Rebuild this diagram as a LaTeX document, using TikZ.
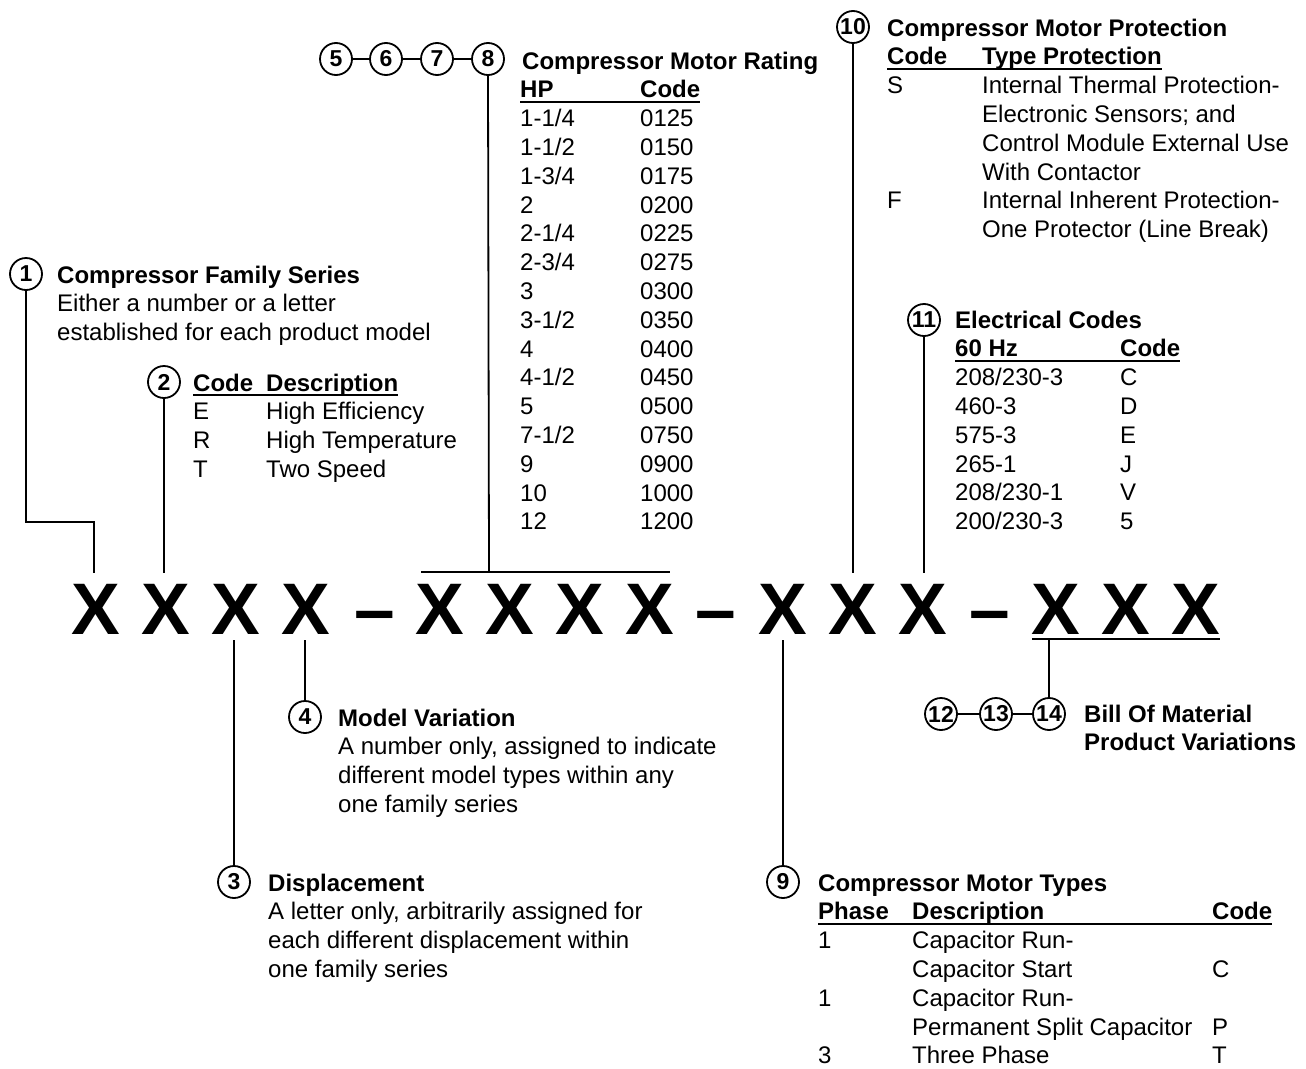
\documentclass[tikz,border=0pt]{standalone}
\usepackage{fontspec}
\setmainfont{Liberation Sans}
\begin{document}
\begin{tikzpicture}[x=1pt,y=-1pt,
  txt/.style={anchor=base west,inner sep=0pt,font=\fontsize{24}{28.8}\selectfont},
  bld/.style={txt,font=\fontsize{24}{28.8}\selectfont\bfseries},
  bigx/.style={anchor=base,inner sep=0pt,font=\fontsize{73}{80}\selectfont\bfseries},
  circ/.style={circle,draw,line width=1.8pt,minimum size=32pt,inner sep=0pt,font=\fontsize{23}{24}\selectfont\bfseries},
  conn/.style={line width=1.8pt},
  uline/.style={line width=2.5pt}]
\useasboundingbox (0,0) rectangle (1306,1068);
% big code row
\node[bigx] (x1) at (95.5,634) {X};
\node[bigx] (x2) at (165.5,634) {X};
\node[bigx] (x3) at (235.5,634) {X};
\node[bigx] (x4) at (305.5,634) {X};
\node[bigx] (d1) at (375,634) {\textendash};
\node[bigx] (x5) at (440,634) {X};
\node[bigx] (x6) at (510,634) {X};
\node[bigx] (x7) at (580,634) {X};
\node[bigx] (x8) at (650,634) {X};
\node[bigx] (d2) at (716,634) {\textendash};
\node[bigx] (x9) at (783,634) {X};
\node[bigx] (x10) at (853,634) {X};
\node[bigx] (x11) at (923,634) {X};
\node[bigx] (d3) at (990,634) {\textendash};
\node[bigx] (x12) at (1056,634) {X};
\node[bigx] (x13) at (1126,634) {X};
\node[bigx] (x14) at (1196,634) {X};
% circles
\node[circ] (c1) at (26,274) {1};
\node[circ] (c2) at (164,382) {2};
\node[circ] (c3) at (234,882) {3};
\node[circ] (c4) at (305,717) {4};
\node[circ] (c5) at (336,59) {5};
\node[circ] (c6) at (386,59) {6};
\node[circ] (c7) at (437,59) {7};
\node[circ] (c8) at (488,59) {8};
\node[circ] (c9) at (783,882) {9};
\node[circ] (c10) at (853,27) {10};
\node[circ] (c11) at (924,320) {11};
\node[circ] (c12) at (941,714) {12};
\node[circ] (c13) at (996,714) {13};
\node[circ] (c14) at (1049,714) {14};
% connector coordinates
\coordinate (j1) at (26,522);
\coordinate (k1) at (94,573);
\coordinate (k2) at (164,573);
\coordinate (k8) at (489,572);
\coordinate (ol1) at (421,572);
\coordinate (ol2) at (670,572);
\coordinate (k10) at (853,573);
\coordinate (k11) at (924,573);
\coordinate (k3) at (234,640);
\coordinate (k4) at (305,640);
\coordinate (k9) at (783,640);
\coordinate (ul1) at (1032,639);
\coordinate (ul2) at (1220,639);
\coordinate (k14) at (1049,639);
% connectors
\draw[conn] (c1.south) -- (j1) -| (k1);
\draw[conn] (c2) -- (k2);
\draw[conn] (c5) -- (c6);
\draw[conn] (c6) -- (c7);
\draw[conn] (c7) -- (c8);
\draw[conn] (c8.south) -- (k8);
\draw[conn] (ol1) -- (ol2);
\draw[conn] (c10) -- (k10);
\draw[conn] (c11) -- (k11);
\draw[conn] (k3) -- (c3);
\draw[conn] (k4) -- (c4);
\draw[conn] (k9) -- (c9);
\draw[conn] (ul1) -- (ul2);
\draw[conn] (k14) -- (c14);
\draw[conn] (c12) -- (c13);
\draw[conn] (c13) -- (c14);
% block 1
\node[bld] (b1t) at (57,283) {Compressor Family Series};
\node[txt] (b1a) at (57,311.8) {Either a number or a letter};
\node[txt] (b1b) at (57,340.6) {established for each product model};
% block 2
\node[bld] (b2h1) at (193,391) {Code};
\node[bld] (b2h2) at (266,391) {Description};
\draw[uline] ([yshift=-4pt]b2h1.base west) -- ([yshift=-4pt]b2h2.base east);
\node[txt] (b2a1) at (193,419.8) {E};
\node[txt] (b2a2) at (266,419.8) {High Efficiency};
\node[txt] (b2b1) at (193,448.6) {R};
\node[txt] (b2b2) at (266,448.6) {High Temperature};
\node[txt] (b2c1) at (193,477.4) {T};
\node[txt] (b2c2) at (266,477.4) {Two Speed};
% rating block
\node[bld] (rt) at (522,69) {Compressor Motor Rating};
\node[bld] (rh1) at (520,97.8) {HP};
\node[bld] (rh2) at (640,97.8) {Code};
\draw[uline] ([yshift=-4pt]rh1.base west) -- ([yshift=-4pt]rh2.base east);
\node[txt] (ra0) at (520,126.6) {1-1/4};   \node[txt] (rb0) at (640,126.6) {0125};
\node[txt] (ra1) at (520,155.4) {1-1/2};   \node[txt] (rb1) at (640,155.4) {0150};
\node[txt] (ra2) at (520,184.2) {1-3/4};   \node[txt] (rb2) at (640,184.2) {0175};
\node[txt] (ra3) at (520,213.0) {2};       \node[txt] (rb3) at (640,213.0) {0200};
\node[txt] (ra4) at (520,241.8) {2-1/4};   \node[txt] (rb4) at (640,241.8) {0225};
\node[txt] (ra5) at (520,270.6) {2-3/4};   \node[txt] (rb5) at (640,270.6) {0275};
\node[txt] (ra6) at (520,299.4) {3};       \node[txt] (rb6) at (640,299.4) {0300};
\node[txt] (ra7) at (520,328.2) {3-1/2};   \node[txt] (rb7) at (640,328.2) {0350};
\node[txt] (ra8) at (520,357.0) {4};       \node[txt] (rb8) at (640,357.0) {0400};
\node[txt] (ra9) at (520,385.8) {4-1/2};   \node[txt] (rb9) at (640,385.8) {0450};
\node[txt] (ra10) at (520,414.6) {5};      \node[txt] (rb10) at (640,414.6) {0500};
\node[txt] (ra11) at (520,443.4) {7-1/2};  \node[txt] (rb11) at (640,443.4) {0750};
\node[txt] (ra12) at (520,472.2) {9};      \node[txt] (rb12) at (640,472.2) {0900};
\node[txt] (ra13) at (520,501.0) {10};     \node[txt] (rb13) at (640,501.0) {1000};
\node[txt] (ra14) at (520,529.8) {12};     \node[txt] (rb14) at (640,529.8) {1200};
% protection block
\node[bld] (pt) at (887,36) {Compressor Motor Protection};
\node[bld] (ph1) at (887,64.8) {Code};
\node[bld] (ph2) at (982,64.8) {Type Protection};
\draw[uline] ([yshift=-4pt]ph1.base west) -- ([yshift=-4pt]ph2.base east);
\node[txt] (pa1) at (887,93.6) {S};
\node[txt] (pa2) at (982,93.6) {Internal Thermal Protection-};
\node[txt] (pb2) at (982,122.4) {Electronic Sensors; and};
\node[txt] (pc2) at (982,151.2) {Control Module External Use};
\node[txt] (pd2) at (982,180) {With Contactor};
\node[txt] (pe1) at (887,208.8) {F};
\node[txt] (pe2) at (982,208.8) {Internal Inherent Protection-};
\node[txt] (pf2) at (982,237.6) {One Protector (Line Break)};
% electrical block
\node[bld] (et) at (955,328) {Electrical Codes};
\node[bld] (eh1) at (955,356.8) {60 Hz};
\node[bld] (eh2) at (1120,356.8) {Code};
\draw[uline] ([yshift=-4pt]eh1.base west) -- ([yshift=-4pt]eh2.base east);
\node[txt] (ea0) at (955,385.6) {208/230-3}; \node[txt] (eb0) at (1120,385.6) {C};
\node[txt] (ea1) at (955,414.4) {460-3};     \node[txt] (eb1) at (1120,414.4) {D};
\node[txt] (ea2) at (955,443.2) {575-3};     \node[txt] (eb2) at (1120,443.2) {E};
\node[txt] (ea3) at (955,472.0) {265-1};     \node[txt] (eb3) at (1120,472.0) {J};
\node[txt] (ea4) at (955,500.8) {208/230-1}; \node[txt] (eb4) at (1120,500.8) {V};
\node[txt] (ea5) at (955,529.6) {200/230-3}; \node[txt] (eb5) at (1120,529.6) {5};
% block 4
\node[bld] (b4t) at (338,726) {Model Variation};
\node[txt] (b4a) at (338,754.8) {A number only, assigned to indicate};
\node[txt] (b4b) at (338,783.6) {different model types within any};
\node[txt] (b4c) at (338,812.4) {one family series};
% block 3
\node[bld] (b3t) at (268,891) {Displacement};
\node[txt] (b3a) at (268,919.8) {A letter only, arbitrarily assigned for};
\node[txt] (b3b) at (268,948.6) {each different displacement within};
\node[txt] (b3c) at (268,977.4) {one family series};
% block 9
\node[bld] (mt) at (818,891) {Compressor Motor Types};
\node[bld] (mh1) at (818,919.8) {Phase};
\node[bld] (mh2) at (912,919.8) {Description};
\node[bld] (mh3) at (1212,919.8) {Code};
\draw[uline] ([yshift=-4pt]mh1.base west) -- ([yshift=-4pt]mh3.base east);
\node[txt] (ma1) at (818,948.6) {1};
\node[txt] (ma2) at (912,948.6) {Capacitor Run-};
\node[txt] (mb2) at (912,977.4) {Capacitor Start};
\node[txt] (mb3) at (1212,977.4) {C};
\node[txt] (mc1) at (818,1006.2) {1};
\node[txt] (mc2) at (912,1006.2) {Capacitor Run-};
\node[txt] (md2) at (912,1035) {Permanent Split Capacitor};
\node[txt] (md3) at (1212,1035) {P};
\node[txt] (me1) at (818,1063.8) {3};
\node[txt] (me2) at (912,1063.8) {Three Phase};
\node[txt] (me3) at (1212,1063.8) {T};
% BOM block
\node[bld] (bt1) at (1084,722) {Bill Of Material};
\node[bld] (bt2) at (1084,750.8) {Product Variations};
\end{tikzpicture}
\end{document}
